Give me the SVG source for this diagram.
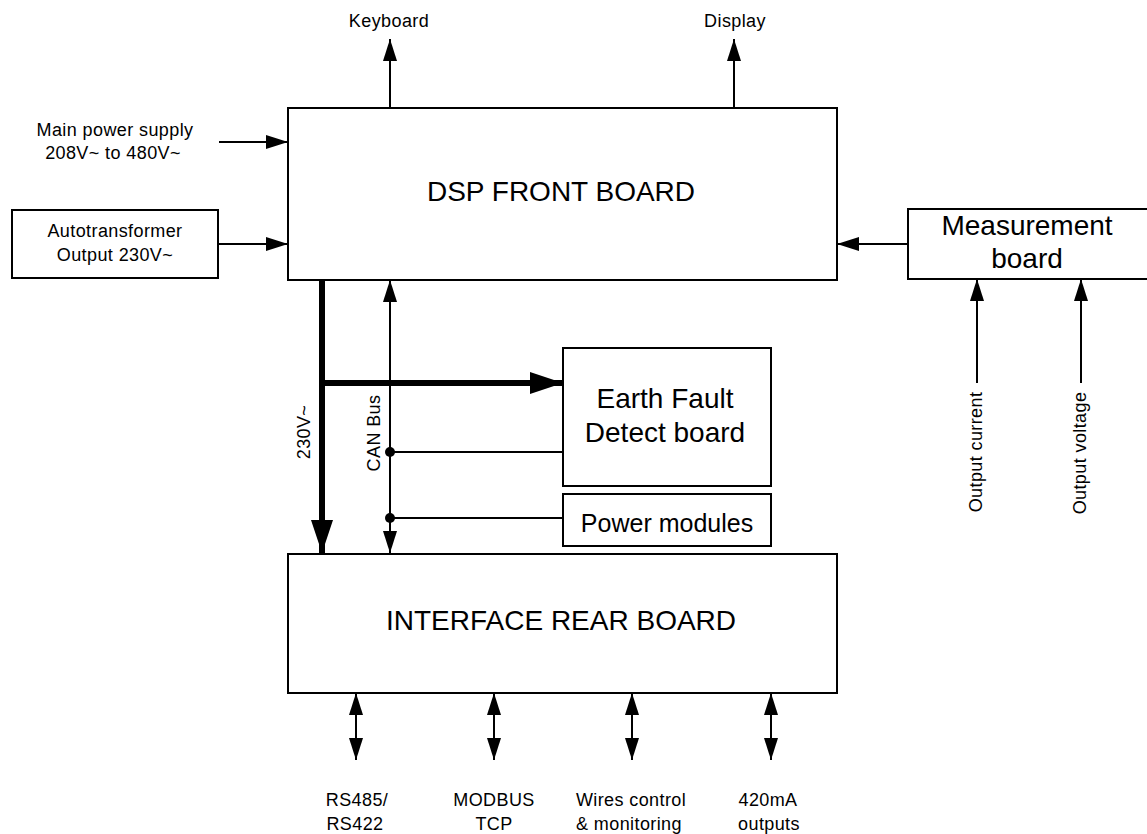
<svg xmlns="http://www.w3.org/2000/svg" width="1147" height="834" viewBox="0 0 1147 834">
<style>
.box{fill:#fff;stroke:#000;stroke-width:2}
.ln{stroke:#000;stroke-width:2;fill:none}
.thk{stroke:#000;stroke-width:6;fill:none}
text{font-family:"Liberation Sans",Arial,sans-serif;fill:#000;text-anchor:middle}
.s{font-size:18px;letter-spacing:0.4px}
.m{font-size:25px}
.l{font-size:28px}
</style>
<defs>
<marker id="a" markerUnits="userSpaceOnUse" viewBox="0 0 22 14" refX="22" refY="7" markerWidth="22" markerHeight="14" orient="auto-start-reverse"><path d="M0,0 L22,7 L0,14 Z" fill="#000"/></marker>
<marker id="A" markerUnits="userSpaceOnUse" viewBox="0 0 33 22" refX="33" refY="11" markerWidth="33" markerHeight="22" orient="auto"><path d="M0,0 L33,11 L0,22 Z" fill="#000"/></marker>
</defs>
<rect width="1147" height="834" fill="#fff"/>
<g id="dsp"><rect class="box" x="288" y="108" width="549" height="172"/><text class="l" x="561" y="201">DSP FRONT BOARD</text></g>
<g id="autotransformer"><rect class="box" x="12" y="210" width="206" height="68"/><text class="s" x="115" y="237">Autotransformer</text><text class="s" x="115" y="261">Output 230V~</text></g>
<g id="measurement"><rect class="box" x="908" y="209" width="250" height="70"/><text class="l" x="1027" y="235">Measurement</text><text class="l" x="1027" y="268">board</text></g>
<g id="earthfault"><rect class="box" x="563" y="348" width="208" height="138"/><text class="l" x="665" y="408">Earth Fault</text><text class="l" x="665" y="442">Detect board</text></g>
<g id="powermodules"><rect class="box" x="563" y="494" width="208" height="52"/><text class="m" x="667" y="532">Power modules</text></g>
<g id="rear"><rect class="box" x="288" y="554" width="549" height="139"/><text class="l" x="561" y="630">INTERFACE REAR BOARD</text></g>
<g id="labels">
<text class="s" x="389" y="27">Keyboard</text>
<text class="s" x="735" y="27">Display</text>
<text class="s" x="115" y="136">Main power supply</text>
<text class="s" x="113" y="159">208V~ to 480V~</text>
<text class="s" transform="translate(310,432) rotate(-90)">230V~</text>
<text class="s" transform="translate(380,433) rotate(-90)">CAN Bus</text>
<text class="s" transform="translate(982,452) rotate(-90)">Output current</text>
<text class="s" transform="translate(1086,453) rotate(-90)">Output voltage</text>
<text class="s" x="357" y="806">RS485/</text>
<text class="s" x="355" y="830">RS422</text>
<text class="s" x="494" y="806">MODBUS</text>
<text class="s" x="494" y="830">TCP</text>
<text class="s" x="631" y="806">Wires control</text>
<text class="s" x="629" y="830">&amp; monitoring</text>
<text class="s" x="768" y="806">420mA</text>
<text class="s" x="769" y="830">outputs</text>
</g>
<g id="connectors">
<line class="ln" x1="390" y1="108" x2="390" y2="39" marker-end="url(#a)"/>
<line class="ln" x1="734" y1="108" x2="734" y2="39" marker-end="url(#a)"/>
<line class="ln" x1="219" y1="142" x2="288" y2="142" marker-end="url(#a)"/>
<line class="ln" x1="218" y1="244" x2="288" y2="244" marker-end="url(#a)"/>
<line class="ln" x1="908" y1="244" x2="837" y2="244" marker-end="url(#a)"/>
<line class="ln" x1="977" y1="383" x2="977" y2="279" marker-end="url(#a)"/>
<line class="ln" x1="1081" y1="383" x2="1081" y2="279" marker-end="url(#a)"/>
<line class="thk" x1="322" y1="280" x2="322" y2="553" marker-end="url(#A)"/>
<line class="thk" x1="319" y1="383" x2="563" y2="383" marker-end="url(#A)"/>
<line class="ln" x1="390" y1="280" x2="390" y2="553" marker-start="url(#a)" marker-end="url(#a)"/>
<line class="ln" x1="390" y1="452" x2="563" y2="452"/>
<line class="ln" x1="390" y1="518" x2="563" y2="518"/>
<circle cx="390" cy="452" r="5" fill="#000"/>
<circle cx="390" cy="518" r="5" fill="#000"/>
<line class="ln" x1="356" y1="693" x2="356" y2="760" marker-start="url(#a)" marker-end="url(#a)"/>
<line class="ln" x1="494" y1="693" x2="494" y2="760" marker-start="url(#a)" marker-end="url(#a)"/>
<line class="ln" x1="632" y1="693" x2="632" y2="760" marker-start="url(#a)" marker-end="url(#a)"/>
<line class="ln" x1="771" y1="693" x2="771" y2="760" marker-start="url(#a)" marker-end="url(#a)"/>
</g>
</svg>
